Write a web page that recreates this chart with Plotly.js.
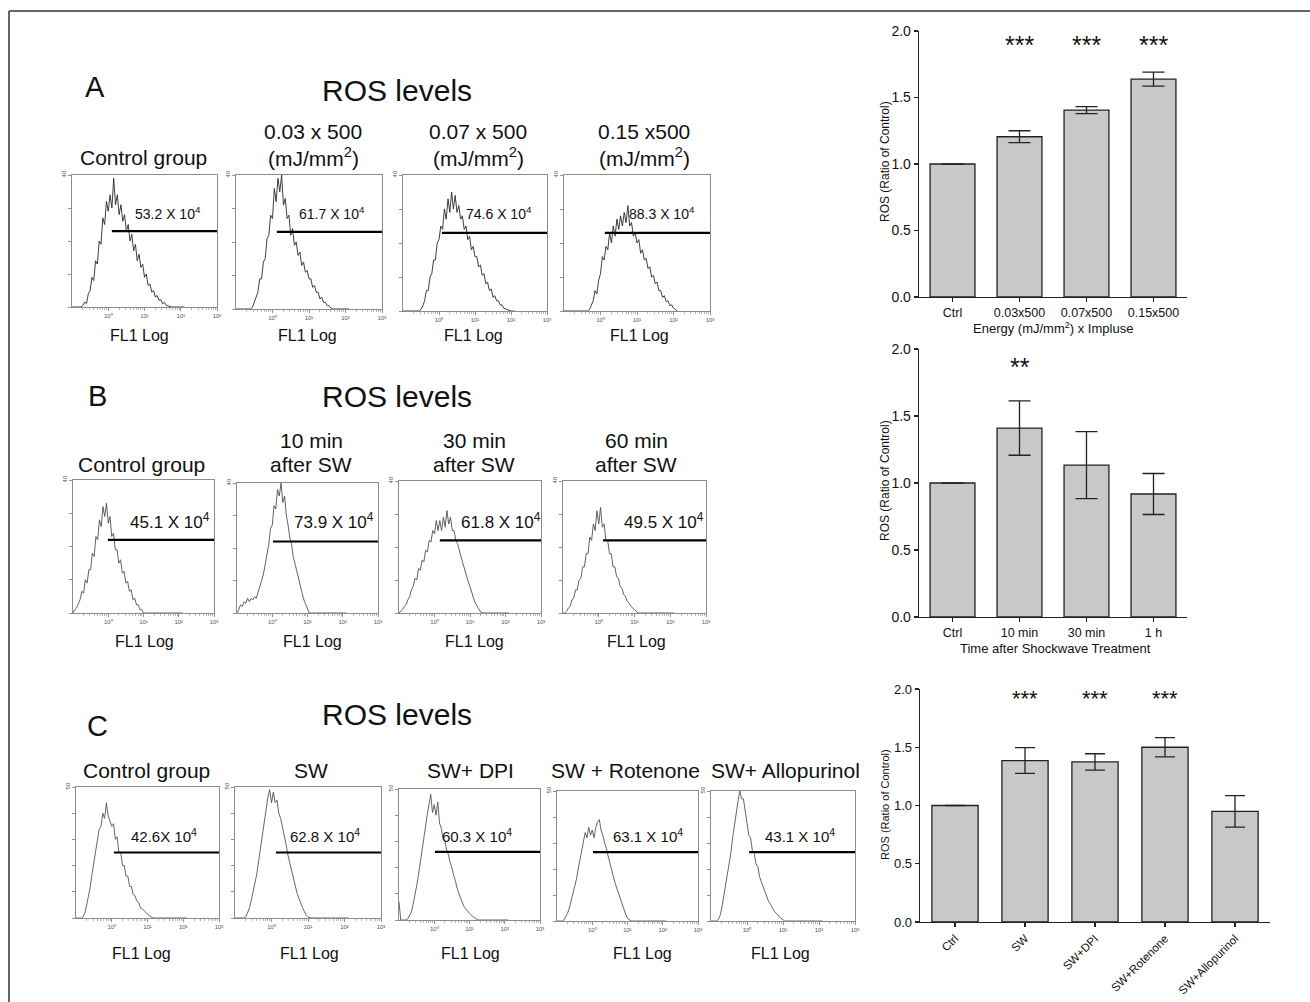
<!DOCTYPE html>
<html>
<head>
<meta charset="utf-8">
<script src="https://cdn.plot.ly/plotly-3.0.1.min.js"></script>
<style>
  html, body { margin: 0; padding: 0; background: #fff; }
  #chart { width: 1310px; height: 1002px; }
</style>
</head>
<body>
<div id="chart"></div>
<script>
// ---------------- DATA ----------------
// Histogram bins (log10 of FL1 intensity)
const BINS = [-1.00,-0.95,-0.90,-0.85,-0.80,-0.75,-0.70,-0.65,-0.60,-0.55,-0.50,-0.45,-0.40,-0.35,-0.30,-0.25,-0.20,-0.15,-0.10,-0.05,0.00,0.05,0.10,0.15,0.20,0.25,0.30,0.35,0.40,0.45,0.50,0.55,0.60,0.65,0.70,0.75,0.80,0.85,0.90,0.95,1.00,1.05,1.10,1.15,1.20,1.25,1.30,1.35,1.40,1.45,1.50,1.55,1.60,1.65,1.70,1.75,1.80,1.85,1.90,1.95,2.00,2.05,2.10];

// Panel A: energy dose
const HIST_A1 = [0,0,0,0,0,0, 0.5,1.5,1,4,5,9,8,14, 13,20,19,27,25,32,29,34, 30,39,31,34,28,31,26,28, 23,25,20,22,17,19,14,16, 12,13,9,10,6.5,7,4.5,5, 3,3.5,2,2.2,1,1.4,0.5,0.3, 0,0,0,0,0,0,0,0,0];
const HIST_A2 = [0,0,0,0,0,0,0,0,0, 0.5,2,3.5,5,9,9,14,15, 21,22,28,27,36,32,39,35, 40,31,33,27,28,22,24,19, 20,16,17,13,14,11,11.5,9, 9,6.5,7,5,5,3,3.5,2, 2,1,1,0.3, 0,0,0,0,0,0,0,0,0,0];
const HIST_A3 = [0,0,0,0,0,0,0,0,0,0, 0.5,1.5,3,6,6,10,11,15, 15,20,21,25,24,30,27,33, 29,35,30,34,29,31,27,28, 24,25,21,22,18,19,16,16, 13,13.5,10.5,11,8,8.5,6,6.5, 4,4.5,3,3,1.8,1.8,0.8,0.6,0.2, 0,0,0,0];
const HIST_A4 = [0,0,0,0,0,0,0,0,0,0,0,0,0,0, 0.5,2,3,6,5,9,11,16, 15,19,18,23,20,25,22,27, 24,28,25,29,26,31,25,26, 22,23,20,21,17,18,15,15.5, 12.5,13,10,10.5,8,8.5,6,6, 4,4.5,2.8,3,1.6,1.8,0.8,0.5,0];

// Panel B: time after shockwave
const HIST_B1 = [0,1,1.5,3,4,6.5,6,10, 9,13,13,18,17,23,22,28, 26,32,29,33,27,29,23,24, 19,19,15,16,12,12.5,9,9.5, 6.5,7,4,4.5,2.5,2.5,1,1, 0,0,0,0,0,0,0,0,0,0,0,0,0,0,0,0,0,0,0,0,0,0,0];
const HIST_B2 = [0,1,2.5,2,3.5,3,4.5,3.5, 4.5,4,5,4.5,6.5,8,10,12, 15,19,21,26,27,33,32,38, 36,40,34,36,30,27,23,21, 17,15,12.5,10,8,6,4,2.5, 1,0, 0,0,0,0,0,0,0,0,0,0,0,0,0,0,0,0,0,0,0,0,0];
const HIST_B3 = [0,0.5,1,2,2.5,4,5,7, 8,10.5,10,13.5,13,16,15.5,19, 18.5,22,21.5,25,24,28,25,28, 25,29,26,31,27,29,25,25, 22,21,18.5,17,15,13,11.5,9.5, 8,6,4.5,3,2,1,0.3, 0,0,0,0,0,0,0,0,0,0,0,0,0,0,0,0];
const HIST_B4 = [0,0,0.5,1.5,2,4,4.5,7, 7,10,10.5,14,14,18,18,23, 22,27,25,31,27,32,26,27, 22,22,18,18,14,14,11,10.5, 8,7.5,5.5,5,3.5,3,2,1.5, 0.8,0.3, 0,0,0,0,0,0,0,0,0,0,0,0,0,0,0,0,0,0,0,0,0];

// Panel C: inhibitors
const HIST_C1 = [0,0,0,0, 0.5,2,5,8,12,17,21,26, 29,34,35,40,38,44,39,37, 35,36,30,31,25,25,20,20, 16,16,12,12,9,8.5,6.5,6, 4,3.5,3,2.2,1.5,1,0.3, 0,0,0,0,0,0,0,0,0,0,0,0,0,0,0,0,0,0,0,0];
const HIST_C2 = [0,0,0,0,0,0, 0.5,2,4,7,10,14,17,22, 27,31,38,41,46,49,44,48, 44,45,40,38,35,31,28,24, 21,18,15,12,9.5,7.5,5.5,4, 2.5,1,0.3, 0,0,0,0,0,0,0,0,0,0,0,0,0,0,0,0,0,0,0,0,0,0];
const HIST_C3 = [7,0,0,0,0, 0.5,1.5,3,6,9,13,17,22, 27,31,36,40,44,48,41,44, 40,45,37,35,31,30,27,25, 22,20,17,15,12,10,8,6.5, 5,4,3,2.5,1.8,1.2,0.8,0.4, 0,0,0,0,0,0,0,0,0,0,0,0,0,0,0,0,0,0];
const HIST_C4 = [0,0,0,0, 0.5,1.5,3,5,7.5,10,13,16, 20,23.5,27,31,34,32,36,33, 35,32,36,38,39,35,33,30, 28,25,22,19.5,17,14.5,12.5,10, 8,6,4.5,2.5,1,0.3, 0,0,0,0,0,0,0,0,0,0,0,0,0,0,0,0,0,0,0,0,0];
const HIST_C5 = [0,0,0,0, 0.5,2,5,9,13,17,21,26, 32,37,43,46,50,47,47,42, 39,33,32,27,26,22,21,17, 15,13,11,9,7.5,6.5,5,4, 3,2.5,1.5,1,0.3, 0,0,0,0,0,0,0,0,0,0,0,0,0,0,0,0,0,0,0,0,0,0];

// Marker gate (M1) start (log10) and level (counts)
const GATE_START_A = [0.10, 0.12, 0.08, 0.12];
const GATE_LEVEL_A = [23, 23, 23, 23];
const GATE_START_B = [-0.01, 0.02, 0.15, 0.12];
const GATE_LEVEL_B = [22, 22, 22, 22];
const GATE_START_C = [0.06, 0.12, 0.02, 0.02, 0.06];
const GATE_LEVEL_C = [25, 25, 26, 26.5, 26.5];

// Mean fluorescence labels
const MEAN_A = ['53.2 X 10<sup>4</sup>', '61.7 X 10<sup>4</sup>', '74.6 X 10<sup>4</sup>', '88.3 X 10<sup>4</sup>'];
const MEAN_B = ['45.1 X 10<sup>4</sup>', '73.9 X 10<sup>4</sup>', '61.8 X 10<sup>4</sup>', '49.5 X 10<sup>4</sup>'];
const MEAN_C = ['42.6X 10<sup>4</sup>', '62.8 X 10<sup>4</sup>', '60.3 X 10<sup>4</sup>', '63.1 X 10<sup>4</sup>', '43.1 X 10<sup>4</sup>'];

// Group titles
const SUB_A_TOP = ['', '0.03 x 500', '0.07 x 500', '0.15 x500'];
const SUB_A_BOT = ['Control group', '(mJ/mm<sup>2</sup>)', '(mJ/mm<sup>2</sup>)', '(mJ/mm<sup>2</sup>)'];
const SUB_B_TOP = ['', '10 min', '30 min', '60 min'];
const SUB_B_BOT = ['Control group', 'after SW', 'after SW', 'after SW'];
const SUB_C = ['Control group', 'SW', 'SW+ DPI', 'SW + Rotenone', 'SW+ Allopurinol'];

// Histogram axis ticks
const HIST_X_TICKVALS = [0, 1, 2, 3];
const HIST_X_TICKTEXT = ['10\u2070', '10\u00b9', '10\u00b2', '10\u00b3'];
const HIST_Y_MINOR = [0, 10, 20, 30, 40];

// Bar charts
const BAR_A_CATS = ['Ctrl', '0.03x500', '0.07x500', '0.15x500'];
const BAR_A_VALS = [1.0, 1.205, 1.405, 1.638];
const BAR_A_ERR  = [0, 0.045, 0.026, 0.053];
const BAR_A_SIG  = ['', '***', '***', '***'];

const BAR_B_CATS = ['Ctrl', '10 min', '30 min', '1 h'];
const BAR_B_VALS = [1.0, 1.41, 1.134, 0.918];
const BAR_B_ERR  = [0, 0.203, 0.25, 0.153];
const BAR_B_SIG  = ['', '**', '', ''];

const BAR_C_CATS = ['Ctrl', 'SW', 'SW+DPI', 'SW+Rotenone', 'SW+Allopurinol'];
const BAR_C_VALS = [1.0, 1.386, 1.374, 1.50, 0.949];
const BAR_C_ERR  = [0, 0.11, 0.07, 0.082, 0.135];
const BAR_C_SIG  = ['', '***', '***', '***', ''];

const Y_TICKS_BAR = [0, 0.5, 1.0, 1.5, 2.0];
const Y_TICKTEXT_BAR = ['0.0', '0.5', '1.0', '1.5', '2.0'];

// ---------------- LAYOUT HELPERS ----------------
const W = 1310, H = 1002;
const PX = x => x / W;
const PY = y => 1 - y / H;
const FONT = '"Liberation Sans", Arial, Helvetica, sans-serif';

const traces = [];
const layout = {
  width: W, height: H,
  margin: {l: 0, r: 0, t: 0, b: 0},
  paper_bgcolor: '#ffffff',
  plot_bgcolor: 'rgba(0,0,0,0)',
  showlegend: false,
  font: {family: FONT, color: '#111'},
  annotations: [],
  shapes: []
};

function ann(text, x, y, size, extra) {
  layout.annotations.push(Object.assign({
    text: text, xref: 'paper', yref: 'paper', x: PX(x), y: PY(y),
    xanchor: 'center', yanchor: 'middle', showarrow: false,
    font: {family: FONT, size: size, color: '#111'}
  }, extra || {}));
}

// minor log ticks
const MINOR = [];
for (let d = -1; d < 3; d++) for (let k = 2; k <= 9; k++) MINOR.push(d + Math.log10(k));

let axisN = 0;
function addHist(box, counts, ymax, gateStart, gateLevel, lineColor) {
  axisN++;
  const id = axisN === 1 ? '' : String(axisN);
  const [x0, x1, yT, yB] = box;
  layout['xaxis' + id] = {
    domain: [PX(x0), PX(x1)], range: [-1, 3], anchor: 'y' + id,
    showline: true, linecolor: '#8c8c8c', linewidth: 1, mirror: true,
    showgrid: false, zeroline: false,
    ticks: 'outside', ticklen: 3, tickwidth: 0.8, tickcolor: '#777',
    tickmode: 'array', tickvals: HIST_X_TICKVALS, ticktext: HIST_X_TICKTEXT,
    tickfont: {size: 6, color: '#555', family: FONT},
    minor: {tickmode: 'array', tickvals: MINOR, ticks: 'outside', ticklen: 1.5, tickcolor: '#888', tickwidth: 0.6},
    fixedrange: true
  };
  layout['yaxis' + id] = {
    domain: [PY(yB), PY(yT)], range: [0, ymax], anchor: 'x' + id,
    showline: true, linecolor: '#8c8c8c', linewidth: 1, mirror: true,
    showgrid: false, zeroline: false,
    ticks: 'outside', ticklen: 3, tickwidth: 0.8, tickcolor: '#777',
    tickmode: 'array', tickvals: [ymax], ticktext: [String(ymax)], tickangle: -90,
    tickfont: {size: 6, color: '#555', family: FONT},
    minor: {tickmode: 'array', tickvals: HIST_Y_MINOR.filter(v => v < ymax).concat(ymax > 40 ? [40] : []), ticks: 'outside', ticklen: 3, tickcolor: '#777', tickwidth: 0.8},
    fixedrange: true
  };
  traces.push({
    type: 'scatter', mode: 'lines', x: BINS, y: counts,
    xaxis: 'x' + id, yaxis: 'y' + id,
    line: {color: lineColor, width: 0.9}, hoverinfo: 'skip', cliponaxis: true
  });
  traces.push({
    type: 'scatter', mode: 'lines', x: [gateStart, 3], y: [gateLevel, gateLevel],
    xaxis: 'x' + id, yaxis: 'y' + id,
    line: {color: '#000', width: 2.2}, hoverinfo: 'skip', cliponaxis: false
  });
}

// ---------------- PANEL A ----------------
const BOX_A = [[72,217,175,307],[236,382,175,309],[403,547,175,311],[564,710,175,311]];
const HA = [HIST_A1, HIST_A2, HIST_A3, HIST_A4];
HA.forEach((h, i) => addHist(BOX_A[i], h, 40, GATE_START_A[i], GATE_LEVEL_A[i], '#2a2a2a'));
ann('A', 95, 87, 29);
ann('ROS levels', 397, 90, 30);
const SUBX_A = [143, 313, 478, 644];
SUB_A_TOP.forEach((t, i) => { if (t) ann(t, SUBX_A[i], 131, 21); });
SUB_A_BOT.forEach((t, i) => ann(t, SUBX_A[i], 157, 21));
const MEANX_A = [168, 332, 499, 662];
MEAN_A.forEach((t, i) => ann(t, MEANX_A[i], 213, 14));
const FLX_A = [139, 307, 473, 639];
FLX_A.forEach(x => ann('FL1 Log', x, 335, 16));

// ---------------- PANEL B ----------------
const BOX_B = [[73,214,480,613],[237,378,483,613],[399,541,481,613],[563,706,481,613]];
const HB = [HIST_B1, HIST_B2, HIST_B3, HIST_B4];
HB.forEach((h, i) => addHist(BOX_B[i], h, 40, GATE_START_B[i], GATE_LEVEL_B[i], '#505050'));
ann('B', 97, 396, 29);
ann('ROS levels', 397, 397, 30);
const SUBX_B = [141, 311, 474, 636];
SUB_B_TOP.forEach((t, i) => { if (t) ann(t, SUBX_B[i], 440, 21); });
SUB_B_BOT.forEach((t, i) => ann(t, SUBX_B[i], 465, 21));
const MEANX_B = [170, 334, 501, 664];
MEAN_B.forEach((t, i) => ann(t, MEANX_B[i], 521, 17));
const FLX_B = [144, 312, 474, 636];
FLX_B.forEach(x => ann('FL1 Log', x, 641, 16));

// ---------------- PANEL C ----------------
const BOX_C = [[76,219,787,918],[235,381,787,918],[399,540,789,920],[557,698,791,921],[711,855,791,921]];
const HC = [HIST_C1, HIST_C2, HIST_C3, HIST_C4, HIST_C5];
HC.forEach((h, i) => addHist(BOX_C[i], h, 50, GATE_START_C[i], GATE_LEVEL_C[i], '#555555'));
ann('C', 97, 726, 29);
ann('ROS levels', 397, 714, 30);
const SUBX_C = [146, 311, 470, 625, 785];
SUB_C.forEach((t, i) => ann(t, SUBX_C[i], 770, 21));
const MEANX_C = [164, 325, 477, 648, 800];
MEAN_C.forEach((t, i) => ann(t, MEANX_C[i], 835, 15));
const FLX_C = [141, 309, 470, 642, 780];
FLX_C.forEach(x => ann('FL1 Log', x, 953, 16));

// ---------------- BAR CHARTS ----------------
function addBar(cats, vals, errs, sig, xr, yr, nCatsRange, opts) {
  axisN++;
  const id = String(axisN);
  layout['xaxis' + id] = {
    domain: [PX(xr[0]), PX(xr[1])], anchor: 'y' + id, type: 'category',
    range: nCatsRange, showline: true, linecolor: '#222', linewidth: 1.3,
    showgrid: false, zeroline: false, ticks: 'outside', ticklen: 4, tickwidth: 1.2, tickcolor: '#222',
    tickangle: opts.tickangle, tickfont: {size: opts.xfont, color: '#111', family: FONT},
    fixedrange: true
  };
  layout['yaxis' + id] = {
    domain: [PY(yr[1]), PY(yr[0])], anchor: 'x' + id, range: [0, 2],
    showline: true, linecolor: '#222', linewidth: 1.3,
    showgrid: false, zeroline: false, ticks: 'outside', ticklen: 4, tickwidth: 1.2, tickcolor: '#222',
    tickmode: 'array', tickvals: Y_TICKS_BAR, ticktext: Y_TICKTEXT_BAR,
    tickfont: {size: opts.yfont, color: '#111', family: FONT},
    fixedrange: true
  };
  traces.push({
    type: 'bar', x: cats, y: vals, xaxis: 'x' + id, yaxis: 'y' + id,
    width: opts.barw,
    marker: {color: '#c8c8c8', line: {color: '#222', width: 1.3}},
    error_y: {type: 'data', array: errs, visible: true, color: '#222', thickness: 1.3, width: opts.cap},
    hoverinfo: 'skip'
  });
  sig.forEach((s, i) => {
    if (!s) return;
    layout.annotations.push({
      text: s, xref: 'x' + id, yref: 'y' + id, x: cats[i], y: opts.sigY,
      showarrow: false, xanchor: 'center', yanchor: 'middle', yshift: -5,
      font: {family: FONT, size: opts.sigSize, color: '#111'}
    });
  });
}

addBar(BAR_A_CATS, BAR_A_VALS, BAR_A_ERR, BAR_A_SIG, [919, 1187], [31, 297], [-0.5, 3.5],
  {tickangle: 0, xfont: 12.5, yfont: 14, barw: 0.67, cap: 11, sigY: 1.93, sigSize: 25});
ann('ROS (Ratio of Control)', 885, 162, 12, {textangle: -90});
ann('Energy (mJ/mm<sup>2</sup>) x Impluse', 1053, 328, 13);

addBar(BAR_B_CATS, BAR_B_VALS, BAR_B_ERR, BAR_B_SIG, [919, 1187], [349, 617], [-0.5, 3.5],
  {tickangle: 0, xfont: 12.5, yfont: 14, barw: 0.67, cap: 11, sigY: 1.90, sigSize: 25});
ann('ROS (Ratio of Control)', 885, 481, 12, {textangle: -90});
ann('Time after Shockwave Treatment', 1055, 648, 13);

addBar(BAR_C_CATS, BAR_C_VALS, BAR_C_ERR, BAR_C_SIG, [920, 1270], [689, 922], [-0.5, 4.5],
  {tickangle: -45, xfont: 11.5, yfont: 13, barw: 0.66, cap: 10, sigY: 1.96, sigSize: 22});
ann('ROS (Ratio of Control)', 885, 805, 11, {textangle: -90});

// Figure frame (top and left edges)
layout.shapes.push({type: 'line', xref: 'paper', yref: 'paper', x0: PX(9), x1: PX(1312), y0: PY(11), y1: PY(11), line: {color: '#333', width: 1.5}});
layout.shapes.push({type: 'line', xref: 'paper', yref: 'paper', x0: PX(9), x1: PX(9), y0: PY(11), y1: PY(1004), line: {color: '#333', width: 1.5}});

Plotly.newPlot('chart', traces, layout, {staticPlot: true, displayModeBar: false});
</script>
</body>
</html>
